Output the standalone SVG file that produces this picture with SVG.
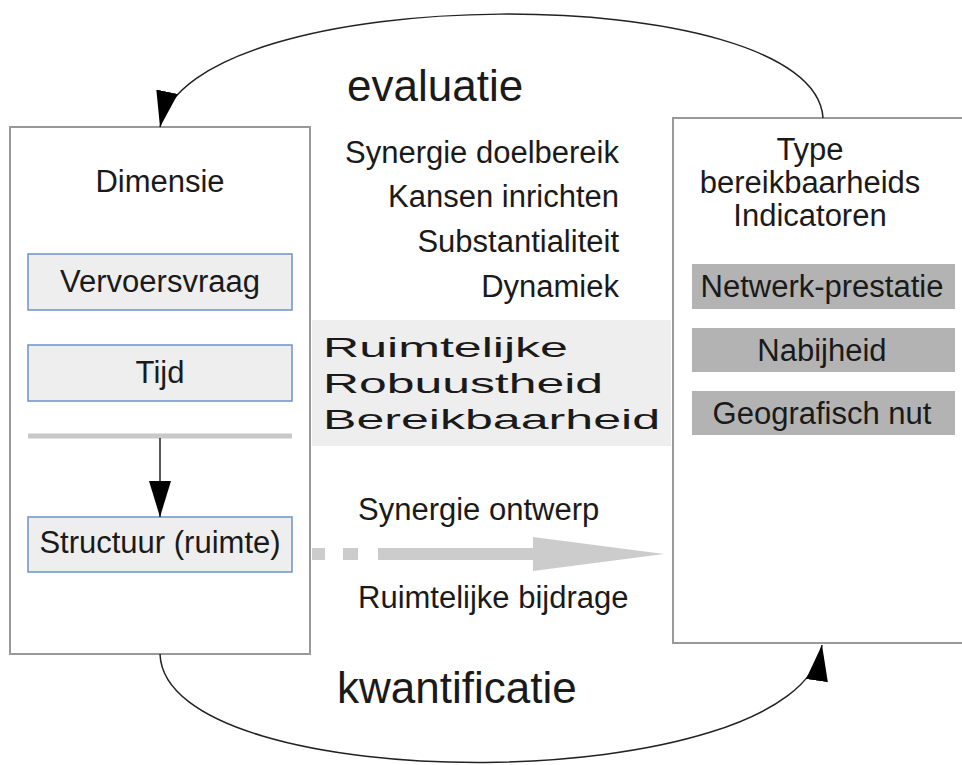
<svg xmlns="http://www.w3.org/2000/svg" width="962" height="765" viewBox="0 0 962 765">
<style>
text{font-family:"Liberation Sans",Arial,sans-serif;fill:#1a1a1a}
.t{font-size:31px}
.big{font-size:44px}
.mid{text-anchor:middle}
.end{text-anchor:end}
.outer{fill:#fff;stroke:#999;stroke-width:2}
.blue{fill:#eeeeee;stroke:#6f93c6;stroke-width:1.5}
.grey{fill:#b3b3b3}
.conn{fill:none;stroke:#222;stroke-width:1.5}
</style>
<defs>
<marker id="ah" markerUnits="userSpaceOnUse" markerWidth="40" markerHeight="24" refX="36" refY="11" orient="auto">
<path d="M0,0 L36,11 L0,22 z" fill="#000"/>
</marker>
</defs>
<rect width="962" height="765" fill="#fff"/>

<g id="band">
<rect x="312" y="320" width="359" height="126" fill="#eeeeee"/>
<text x="323" y="357" font-size="28" textLength="245" lengthAdjust="spacingAndGlyphs">Ruimtelijke</text>
<text x="323" y="393" font-size="28" textLength="280" lengthAdjust="spacingAndGlyphs">Robuustheid</text>
<text x="323" y="429" font-size="28" textLength="337" lengthAdjust="spacingAndGlyphs">Bereikbaarheid</text>
</g>

<g id="dimensie">
<rect class="outer" x="10" y="127" width="300" height="527"/>
<text class="t mid" x="160" y="192">Dimensie</text>
</g>
<g id="vervoersvraag">
<rect class="blue" x="28" y="254" width="264" height="56"/>
<text class="t mid" x="160" y="292">Vervoersvraag</text>
</g>
<g id="tijd">
<rect class="blue" x="28" y="345" width="264" height="56"/>
<text class="t mid" x="160" y="383">Tijd</text>
</g>
<g id="separator">
<line x1="28" y1="436" x2="292" y2="436" stroke="#c8c8c8" stroke-width="5"/>
</g>
<g id="structuur">
<rect class="blue" x="28" y="517" width="264" height="55"/>
<text class="t mid" x="160" y="553">Structuur (ruimte)</text>
</g>

<g id="indicatoren">
<rect class="outer" x="673" y="118" width="300" height="525"/>
<text class="t mid" x="810" y="160">Type</text>
<text class="t mid" x="810" y="193">bereikbaarheids</text>
<text class="t mid" x="810" y="226">Indicatoren</text>
</g>
<g id="netwerk">
<rect class="grey" x="692" y="264" width="263" height="45"/>
<text class="t mid" x="822" y="297">Netwerk-prestatie</text>
</g>
<g id="nabijheid">
<rect class="grey" x="692" y="328" width="263" height="44"/>
<text class="t mid" x="822" y="361">Nabijheid</text>
</g>
<g id="geografisch">
<rect class="grey" x="692" y="391" width="263" height="44"/>
<text class="t mid" x="822" y="424">Geografisch nut</text>
</g>

<g id="labels">
<text class="big" x="347" y="101">evaluatie</text>
<text class="t end" x="619" y="163">Synergie doelbereik</text>
<text class="t end" x="619" y="207">Kansen inrichten</text>
<text class="t end" x="619" y="252">Substantialiteit</text>
<text class="t end" x="619" y="297">Dynamiek</text>
<text class="t" x="358" y="520">Synergie ontwerp</text>
<text class="t" x="358" y="608">Ruimtelijke bijdrage</text>
<text class="big" x="337" y="703">kwantificatie</text>
</g>

<g id="connectors">
<path class="conn" d="M823,118 C815,-22 190,-22 160,127" marker-end="url(#ah)"/>
<path class="conn" d="M160,654 C165,800 800,800 822,645" marker-end="url(#ah)"/>
<line class="conn" x1="160" y1="438" x2="160" y2="517" marker-end="url(#ah)"/>
<g fill="#cccccc">
<rect x="312" y="548" width="13" height="12"/>
<rect x="343" y="548" width="15" height="12"/>
<rect x="378" y="548" width="156" height="12"/>
<path d="M533,537 L664,554 L533,571 z"/>
</g>
</g>
</svg>
